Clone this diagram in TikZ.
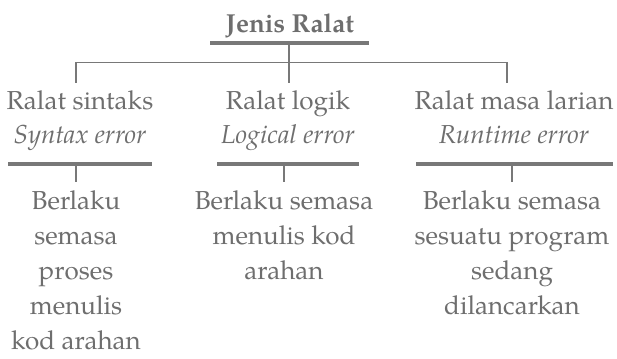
\documentclass[tikz,border=0pt]{standalone}
\usepackage{fontspec}
\setmainfont{TeX Gyre Pagella}
\definecolor{txt}{HTML}{6E6E6E}
\definecolor{ln}{HTML}{787878}
\begin{document}
\begin{tikzpicture}[x=1pt,y=-1pt,
  every node/.style={text=txt, inner sep=0pt, align=center},
  catnode/.style={anchor=base, font=\fontsize{26}{33}\selectfont},
  descnode/.style={anchor=base, font=\fontsize{26}{35.2}\selectfont},
  bar/.style={draw=ln, line width=4.5pt},
  thin/.style={draw=ln, line width=1.2pt}]
\useasboundingbox (0,0) rectangle (617,358);
\node[anchor=base, font=\fontsize{26}{30}\selectfont\bfseries] (title) at (290,33) {Jenis Ralat};
% base anchor = baseline of the last line
\node[catnode] (c1) at (80,143) {Ralat sintaks\\\textit{Syntax error}};
\node[catnode] (c2) at (288,143) {Ralat logik\\\textit{Logical error}};
\node[catnode] (c3) at (514,143) {Ralat masa larian\\\textit{Runtime error}};
\node[descnode] (d1) at (76,349.8) {Berlaku\\semasa\\proses\\menulis\\kod arahan};
\node[descnode] (d2) at (284,279.4) {Berlaku semasa\\menulis kod\\arahan};
\node[descnode] (d3) at (512,314.6) {Berlaku semasa\\sesuatu program\\sedang\\dilancarkan};
% title bar and tree
\coordinate (tbl) at (210,43); \coordinate (tbr) at (369,43);
\draw[bar] (tbl) -- (tbr);
\coordinate (tb) at (289,45); \coordinate (tdrop) at (289,83);
\coordinate (h1) at (76,62.5); \coordinate (h3) at (507,62.5);
\coordinate (e1) at (76,83); \coordinate (e3) at (507,83);
\draw[thin] (tb) -- (tdrop);
\draw[thin] (e1) -- (h1) -- (h3) -- (e3);
% category bars
\coordinate (b1l) at (8,164); \coordinate (b1r) at (152,164);
\coordinate (b2l) at (217,164); \coordinate (b2r) at (359,164);
\coordinate (b3l) at (416,164); \coordinate (b3r) at (613,164);
\draw[bar, line width=4pt] (b1l) -- (b1r);
\draw[bar, line width=4pt] (b2l) -- (b2r);
\draw[bar, line width=4pt] (b3l) -- (b3r);
\foreach \x/\n in {76/1,284/2,512/3}{
  \coordinate (s\n) at (\x,166); \coordinate (t\n) at (\x,182);
  \draw[thin] (s\n) -- (t\n);
}
\end{tikzpicture}
\end{document}
